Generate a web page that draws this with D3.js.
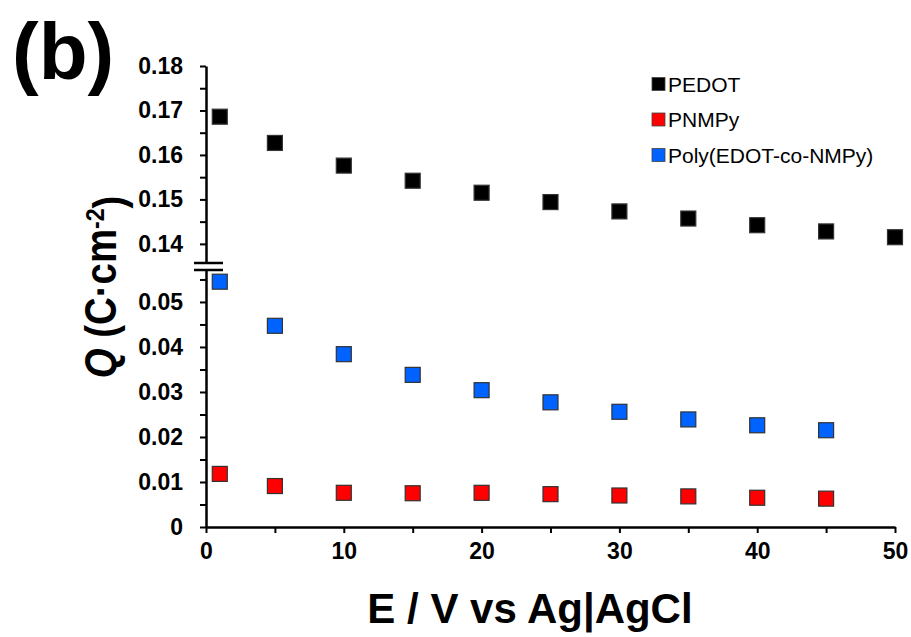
<!DOCTYPE html>
<html>
<head>
<meta charset="utf-8">
<script src="https://cdn.jsdelivr.net/npm/d3@7"></script>
<style>
  body { margin: 0; background: #fff; }
  svg text { font-family: "Liberation Sans", Arial, sans-serif; }
</style>
</head>
<body>
<svg id="chart" width="911" height="637"></svg>
<script>
// potentials (x) and charge values per series
var potentials = [1, 5, 10, 15, 20, 25, 30, 35, 40, 45, 50];
var pedot = [0.1686, 0.1627, 0.1576, 0.1542, 0.1515, 0.1494, 0.1473, 0.1457, 0.1442, 0.1428, 0.1415];
var pnmpy = [0.0118, 0.0091, 0.0076, 0.0075, 0.0076, 0.0073, 0.0070, 0.0068, 0.0065, 0.0063];
var copoly = [0.0545, 0.0447, 0.0384, 0.0338, 0.0304, 0.0277, 0.0256, 0.0239, 0.0226, 0.0215];

var seriesNames = ["PEDOT", "PNMPy", "Poly(EDOT-co-NMPy)"];
var seriesColors = ["#000000", "#ff0000", "#0062ff"];

var xTicks = [0, 5, 10, 15, 20, 25, 30, 35, 40, 45, 50];
var upperTicks = [0.14, 0.145, 0.15, 0.155, 0.16, 0.165, 0.17, 0.175, 0.18];
var lowerTicks = [0, 0.005, 0.01, 0.015, 0.02, 0.025, 0.03, 0.035, 0.04, 0.045, 0.05, 0.055];

var svg = d3.select("#chart");

var x = d3.scaleLinear().domain([0, 50]).range([206, 895]);
// broken y axis: two segments
var yUp = d3.scaleLinear().domain([0.1357, 0.18]).range([263, 66]);
var yLow = d3.scaleLinear().domain([0, 0.0571]).range([527, 270]);

var isMajor = function(d) { return Math.abs(Math.round(d * 100) - d * 100) < 1e-6; };
var yFmt = function(d) {
    if (!isMajor(d)) return "";
    return d === 0 ? "0" : d3.format(".2f")(d);
};

function styleAxis(g) {
    g.select(".domain").attr("stroke", "#000").attr("stroke-width", 2.5);
    g.selectAll(".tick line").attr("stroke", "#000").attr("stroke-width", 2);
    g.selectAll(".tick text").attr("fill", "#000")
        .style("font-size", "23px").style("font-weight", "bold");
}

var gUp = svg.append("g").attr("transform", "translate(206,0)")
    .call(d3.axisLeft(yUp).tickValues(upperTicks).tickFormat(yFmt)
        .tickSize(6).tickSizeOuter(0).tickPadding(17));
styleAxis(gUp);

var gLow = svg.append("g").attr("transform", "translate(206,0)")
    .call(d3.axisLeft(yLow).tickValues(lowerTicks).tickFormat(yFmt)
        .tickSize(6).tickSizeOuter(0).tickPadding(17));
styleAxis(gLow);

var gX = svg.append("g").attr("transform", "translate(0,527)")
    .call(d3.axisBottom(x).tickValues(xTicks)
        .tickFormat(function(d) { return d % 10 === 0 ? d : ""; })
        .tickSize(6).tickSizeOuter(0).tickPadding(10));
styleAxis(gX);

// break marks on y axis
[yUp.range()[0], yLow.range()[1]].forEach(function(yy) {
    svg.append("line")
        .attr("x1", 194).attr("x2", 223)
        .attr("y1", yy).attr("y2", yy)
        .attr("stroke", "#000").attr("stroke-width", 2.5);
});

// markers
var sq = 15;
function drawSeries(vals, scale, color) {
    svg.append("g").selectAll("rect")
        .data(vals)
        .enter().append("rect")
        .attr("x", function(d, i) { return x(potentials[i]) - sq / 2; })
        .attr("y", function(d) { return scale(d) - sq / 2; })
        .attr("width", sq).attr("height", sq)
        .attr("fill", color)
        .attr("stroke", "#333").attr("stroke-width", 1.2);
}
drawSeries(pedot, yUp, seriesColors[0]);
drawSeries(pnmpy, yLow, seriesColors[1]);
drawSeries(copoly, yLow, seriesColors[2]);

// legend
var leg = svg.append("g").selectAll("g")
    .data(seriesNames)
    .enter().append("g")
    .attr("transform", function(d, i) { return "translate(652," + (84 + i * 35.5) + ")"; });
leg.append("rect")
    .attr("x", 0).attr("y", -6.5).attr("width", 13).attr("height", 13)
    .attr("fill", function(d, i) { return seriesColors[i]; })
    .attr("stroke", "#444").attr("stroke-width", 0.8);
leg.append("text")
    .attr("x", 16).attr("dy", "0.36em")
    .style("font-size", "21px")
    .text(function(d) { return d; });

// axis titles
svg.append("text")
    .attr("x", 530).attr("y", 623)
    .attr("text-anchor", "middle")
    .style("font-size", "42px").style("font-weight", "bold")
    .text("E / V vs Ag|AgCl");

var yt = svg.append("text")
    .attr("transform", "translate(116,287) rotate(-90) scale(0.96,1.1)")
    .attr("text-anchor", "middle")
    .style("font-size", "40px").style("font-weight", "bold");
yt.append("tspan").style("font-style", "italic").text("Q");
yt.append("tspan").text(" (C\u00b7cm");
yt.append("tspan").attr("dy", "-0.45em").style("font-size", "24px").text("-2");
yt.append("tspan").attr("dy", "0.45em").text(")");

// panel label
svg.append("text")
    .attr("x", 12).attr("y", 79)
    .style("font-size", "80px").style("font-weight", "bold")
    .text("(b)");
</script>
</body>
</html>
